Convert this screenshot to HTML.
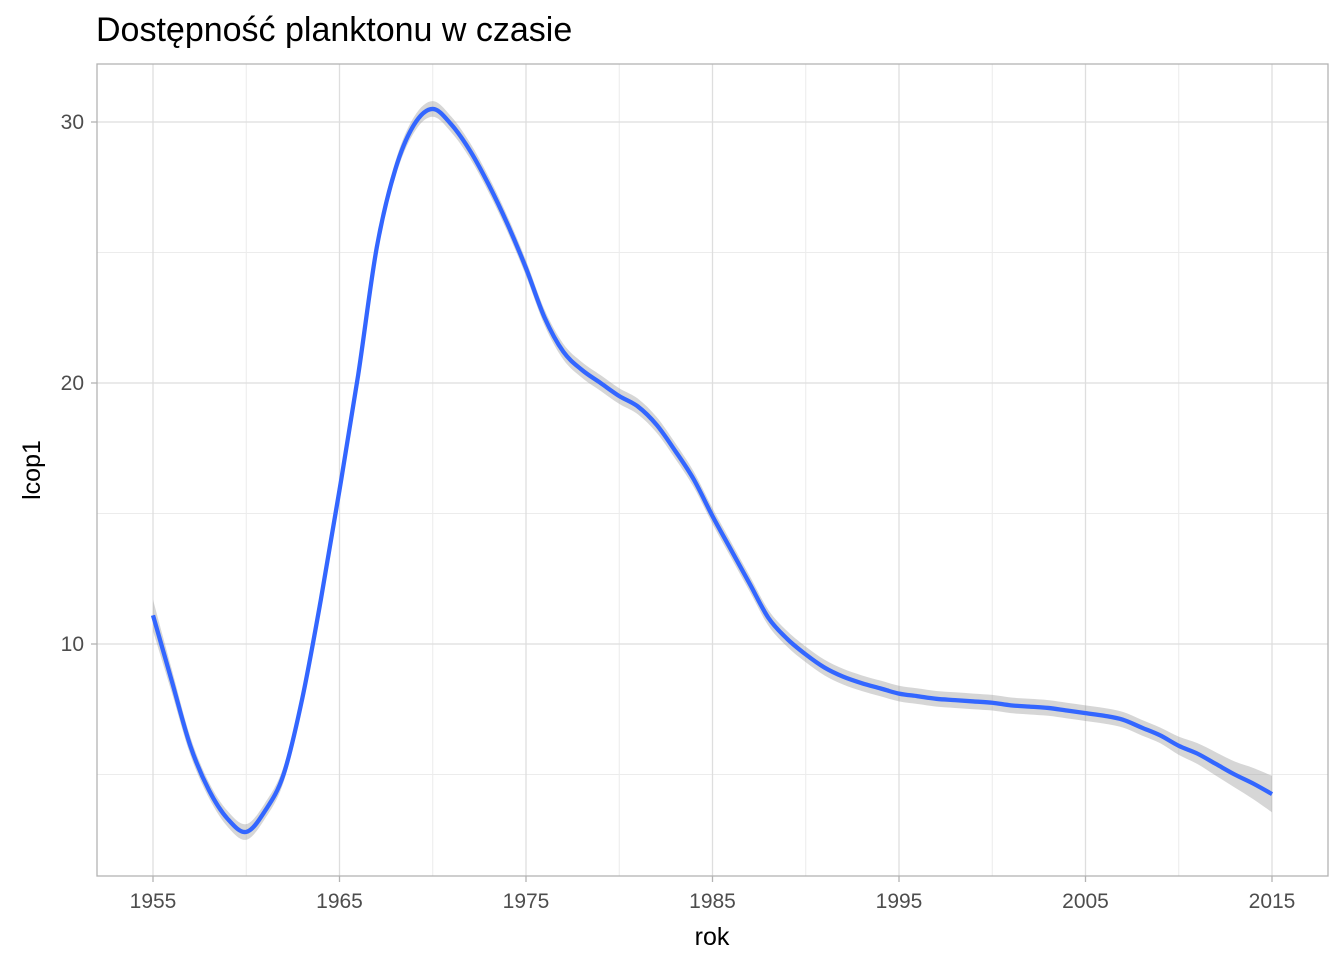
<!DOCTYPE html>
<html><head><meta charset="utf-8">
<style>
html,body{margin:0;padding:0;background:#fff;}
svg{display:block;font-family:"Liberation Sans",Arial,sans-serif;}
</style></head>
<body>
<svg id="chart" width="1344" height="960">
<text x="96" y="41" font-size="34" fill="#000">Dostępność planktonu w czasie</text>
<g id="grid"></g>
<g id="band"></g>
<g id="line"></g>
<rect x="97" y="64" width="1231" height="812" fill="none" stroke="#b3b3b3" stroke-width="1.3"/>
<g id="axes"></g>
<text x="712" y="945" font-size="25" text-anchor="middle" fill="#000">rok</text>
<text transform="translate(40,470) rotate(-90)" font-size="25" text-anchor="middle" fill="#000">lcop1</text>
</svg>
<script>
const years = [1955,1956,1957,1958,1959,1960,1961,1962,1963,1964,1965,1966,1967,1968,1969,1970,1971,1972,1973,1974,1975,1976,1977,1978,1979,1980,1981,1982,1983,1984,1985,1986,1987,1988,1989,1990,1991,1992,1993,1994,1995,1996,1997,1998,1999,2000,2001,2002,2003,2004,2005,2006,2007,2008,2009,2010,2011,2012,2013,2014,2015];
const values = [11.1,8.6,6.1,4.4,3.3,2.8,3.6,5.0,7.9,11.7,15.9,20.3,25.2,28.2,29.9,30.5,29.9,28.9,27.6,26.1,24.4,22.5,21.2,20.5,20.0,19.5,19.1,18.4,17.4,16.3,14.9,13.6,12.3,11.0,10.2,9.6,9.1,8.75,8.5,8.3,8.1,8.0,7.9,7.85,7.8,7.75,7.65,7.6,7.55,7.45,7.35,7.25,7.1,6.8,6.5,6.1,5.8,5.4,5.0,4.65,4.25];
const se = [0.6,0.45,0.35,0.3,0.3,0.3,0.3,0.3,0.3,0.3,0.3,0.3,0.3,0.3,0.3,0.3,0.3,0.3,0.3,0.3,0.3,0.3,0.3,0.3,0.3,0.3,0.3,0.3,0.3,0.3,0.3,0.3,0.3,0.3,0.3,0.3,0.3,0.3,0.3,0.3,0.3,0.3,0.3,0.3,0.3,0.3,0.3,0.3,0.3,0.3,0.3,0.3,0.3,0.3,0.3,0.35,0.4,0.45,0.5,0.6,0.7];
const xTicks = [1955,1965,1975,1985,1995,2005,2015];
const xMinor = [1960,1970,1980,1990,2000,2010];
const yTicks = [10,20,30];
const yMinor = [5,15,25];
const NS='http://www.w3.org/2000/svg';
const X = v => 153 + (v-1955)*(1272-153)/60;
const Y = v => 644 - (v-10)*26.1;
function mk(tag, attrs, parent){const e=document.createElementNS(NS,tag);for(const k in attrs)e.setAttribute(k,attrs[k]);parent.appendChild(e);return e;}
function smooth(pts){
  let d='M'+pts[0][0]+','+pts[0][1];
  for(let i=0;i<pts.length-1;i++){
    const p0=pts[Math.max(i-1,0)],p1=pts[i],p2=pts[i+1],p3=pts[Math.min(i+2,pts.length-1)];
    const c1=[p1[0]+(p2[0]-p0[0])/6,p1[1]+(p2[1]-p0[1])/6];
    const c2=[p2[0]-(p3[0]-p1[0])/6,p2[1]-(p3[1]-p1[1])/6];
    d+=' C'+c1[0]+','+c1[1]+' '+c2[0]+','+c2[1]+' '+p2[0]+','+p2[1];
  }
  return d;
}
const grid=document.getElementById('grid');
yMinor.forEach(v=>{const l=mk('line',{x1:97,x2:1328,y1:Y(v),y2:Y(v),stroke:'#ececec','stroke-width':1},grid);

});
xMinor.forEach(v=>{const l=mk('line',{x1:X(v),x2:X(v),y1:64,y2:876,stroke:'#ececec','stroke-width':1},grid);

});
yTicks.forEach(v=>{const l=mk('line',{x1:97,x2:1328,y1:Y(v),y2:Y(v),stroke:'#dedede','stroke-width':1.3},grid);

});
xTicks.forEach(v=>{const l=mk('line',{x1:X(v),x2:X(v),y1:64,y2:876,stroke:'#dedede','stroke-width':1.3},grid);

});
const axes=document.getElementById('axes');
xTicks.forEach(v=>{const t=mk('line',{x1:X(v),x2:X(v),y1:876,y2:882,stroke:'#b3b3b3','stroke-width':1.3},axes);


const tx=mk('text',{x:X(v),y:908,'font-size':21,'text-anchor':'middle',fill:'#4d4d4d'},axes);tx.textContent=v;

});
yTicks.forEach(v=>{const t=mk('line',{x1:91,x2:97,y1:Y(v),y2:Y(v),stroke:'#b3b3b3','stroke-width':1.3},axes);


const tx=mk('text',{x:84,y:Y(v)+7,'font-size':21,'text-anchor':'end',fill:'#4d4d4d'},axes);tx.textContent=v;

});
const upP=years.map((y,i)=>[X(y),Y(values[i]+se[i])]);
const dnP=years.map((y,i)=>[X(y),Y(values[i]-se[i])]).reverse();
const band=mk('path',{d:smooth(upP)+' L'+smooth(dnP).slice(1)+' Z',fill:'#999','fill-opacity':0.4},document.getElementById('band'));


const line=mk('path',{d:smooth(years.map((y,i)=>[X(y),Y(values[i])])),fill:'none',stroke:'#3366ff','stroke-width':4.3,'stroke-linejoin':'round'},document.getElementById('line'));


</script>
</body></html>
